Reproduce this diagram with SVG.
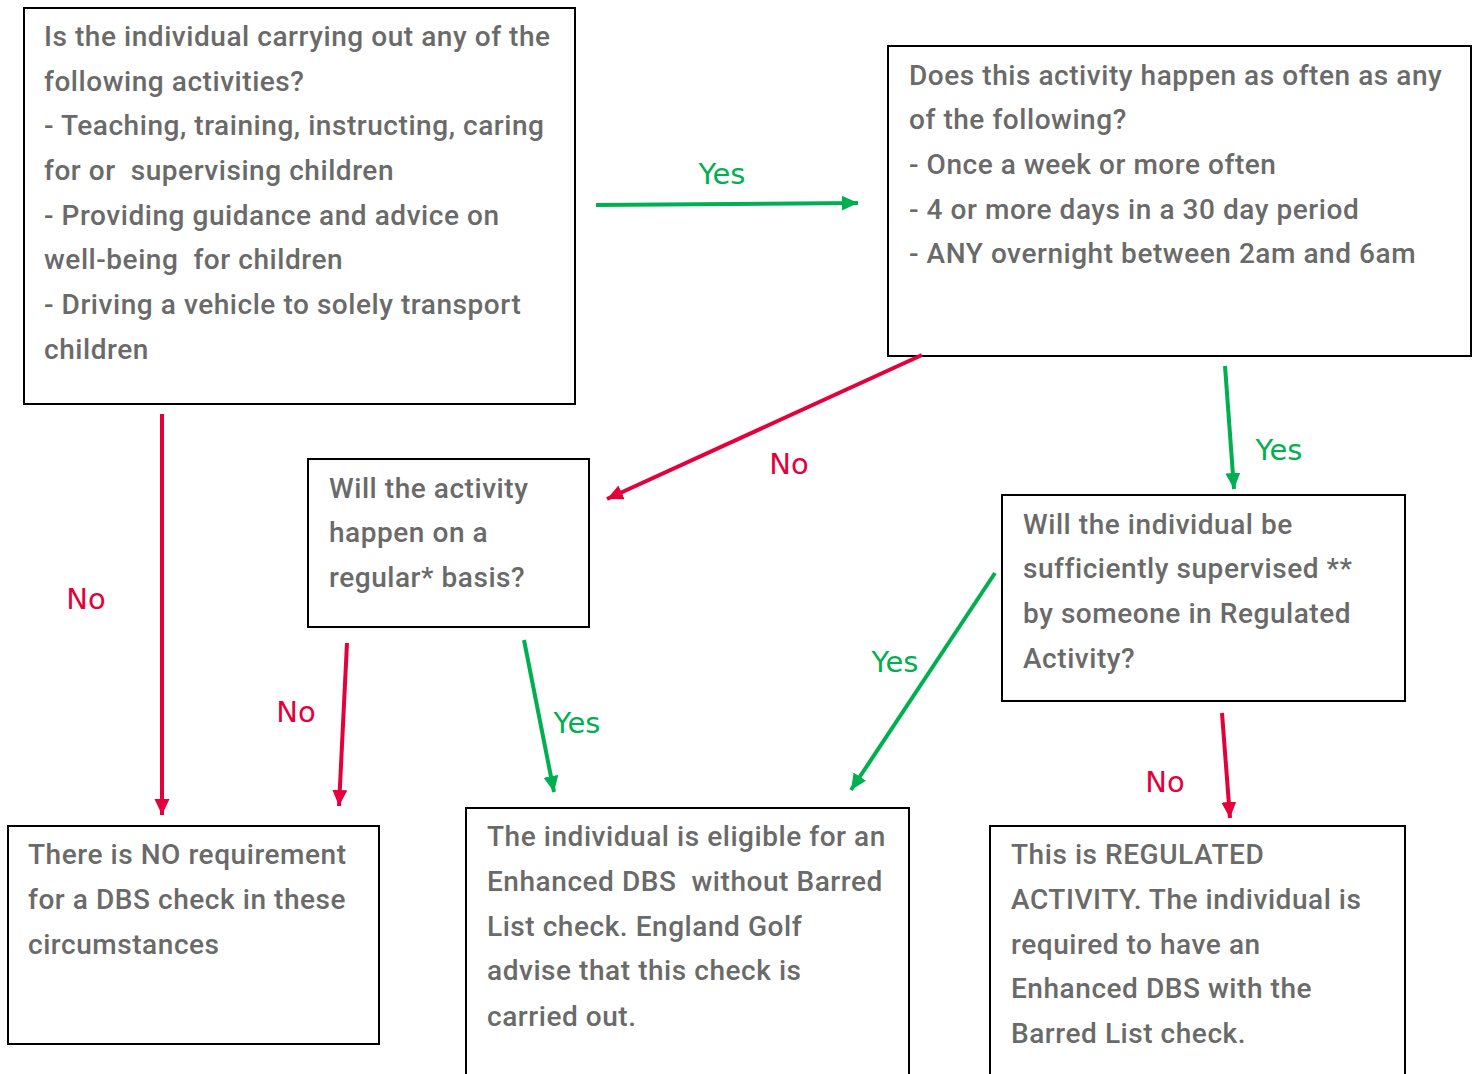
<svg xmlns="http://www.w3.org/2000/svg" width="1477" height="1074" viewBox="0 0 1477 1074">
<style>
.box{fill:#fff;stroke:#000;stroke-width:2}
.t{font-family:Roboto,"Liberation Sans",sans-serif;font-weight:500;font-size:28px;letter-spacing:0.55px;fill:#6a6a6a;white-space:pre}
.lbl{font-family:"DejaVu Sans","Liberation Sans",sans-serif;font-size:29px;text-anchor:middle}
.g{fill:#00b050}.r{fill:#e4003b}
.cg{stroke:#00b050;stroke-width:4;fill:none;marker-end:url(#ag)}
.cr{stroke:#e4003b;stroke-width:4;fill:none;marker-end:url(#ar)}
</style>
<defs>
<marker id="ag" markerUnits="userSpaceOnUse" markerWidth="18" markerHeight="16" refX="16" refY="7.5" orient="auto"><path d="M0,0 L16,7.5 L0,15 z" fill="#00b050"/></marker>
<marker id="ar" markerUnits="userSpaceOnUse" markerWidth="18" markerHeight="16" refX="16" refY="7.5" orient="auto"><path d="M0,0 L16,7.5 L0,15 z" fill="#e4003b"/></marker>
</defs>
<rect width="1477" height="1074" fill="#fff"/>
<g id="n1"><rect class="box" x="24" y="8" width="551" height="396"/>
<text class="t" xml:space="preserve"><tspan x="44" y="46">Is the individual carrying out any of the</tspan><tspan x="44" y="91">following activities?</tspan><tspan x="44" y="135">- Teaching, training, instructing, caring</tspan><tspan x="44" y="180">for or  supervising children</tspan><tspan x="44" y="225">- Providing guidance and advice on</tspan><tspan x="44" y="269">well-being  for children</tspan><tspan x="44" y="314">- Driving a vehicle to solely transport</tspan><tspan x="44" y="359">children</tspan></text></g>
<g id="n2"><rect class="box" x="888" y="46" width="583" height="310"/>
<text class="t"><tspan x="909" y="85">Does this activity happen as often as any</tspan><tspan x="909" y="129">of the following?</tspan><tspan x="909" y="174">- Once a week or more often</tspan><tspan x="909" y="219">- 4 or more days in a 30 day period</tspan><tspan x="909" y="263">- ANY overnight between 2am and 6am</tspan></text></g>
<g id="n3"><rect class="box" x="308" y="459" width="281" height="168"/>
<text class="t"><tspan x="329" y="498">Will the activity</tspan><tspan x="329" y="542">happen on a</tspan><tspan x="329" y="587">regular* basis?</tspan></text></g>
<g id="n4"><rect class="box" x="1002" y="495" width="403" height="206"/>
<text class="t"><tspan x="1023" y="534">Will the individual be</tspan><tspan x="1023" y="578">sufficiently supervised **</tspan><tspan x="1023" y="623">by someone in Regulated</tspan><tspan x="1023" y="668">Activity?</tspan></text></g>
<g id="n5"><rect class="box" x="8" y="826" width="371" height="218"/>
<text class="t"><tspan x="28" y="864">There is NO requirement</tspan><tspan x="28" y="909">for a DBS check in these</tspan><tspan x="28" y="954">circumstances</tspan></text></g>
<g id="n6"><rect class="box" x="466" y="808" width="443" height="280"/>
<text class="t" xml:space="preserve"><tspan x="487" y="846">The individual is eligible for an</tspan><tspan x="487" y="891">Enhanced DBS  without Barred</tspan><tspan x="487" y="936">List check. England Golf</tspan><tspan x="487" y="980">advise that this check is</tspan><tspan x="487" y="1026">carried out.</tspan></text></g>
<g id="n7"><rect class="box" x="990" y="826" width="415" height="262"/>
<text class="t"><tspan x="1011" y="864">This is REGULATED</tspan><tspan x="1011" y="909">ACTIVITY. The individual is</tspan><tspan x="1011" y="954">required to have an</tspan><tspan x="1011" y="998">Enhanced DBS with the</tspan><tspan x="1011" y="1043">Barred List check.</tspan></text></g>
<g id="connectors">
<line class="cg" x1="596" y1="205" x2="858" y2="203"/>
<line class="cr" x1="922" y1="355" x2="607" y2="499"/>
<line class="cg" x1="1225" y1="366" x2="1234" y2="489"/>
<line class="cr" x1="162" y1="414" x2="162" y2="815"/>
<line class="cr" x1="347" y1="643" x2="339" y2="806"/>
<line class="cg" x1="524" y1="640" x2="554" y2="792"/>
<line class="cg" x1="995" y1="573" x2="851" y2="790"/>
<line class="cr" x1="1222" y1="713" x2="1230" y2="818"/>
<text class="lbl g" x="722" y="184">Yes</text>
<text class="lbl r" x="789" y="474">No</text>
<text class="lbl g" x="1279" y="460">Yes</text>
<text class="lbl r" x="86" y="609">No</text>
<text class="lbl r" x="296" y="722">No</text>
<text class="lbl g" x="577" y="733">Yes</text>
<text class="lbl g" x="895" y="672">Yes</text>
<text class="lbl r" x="1165" y="792">No</text>
</g>
</svg>
